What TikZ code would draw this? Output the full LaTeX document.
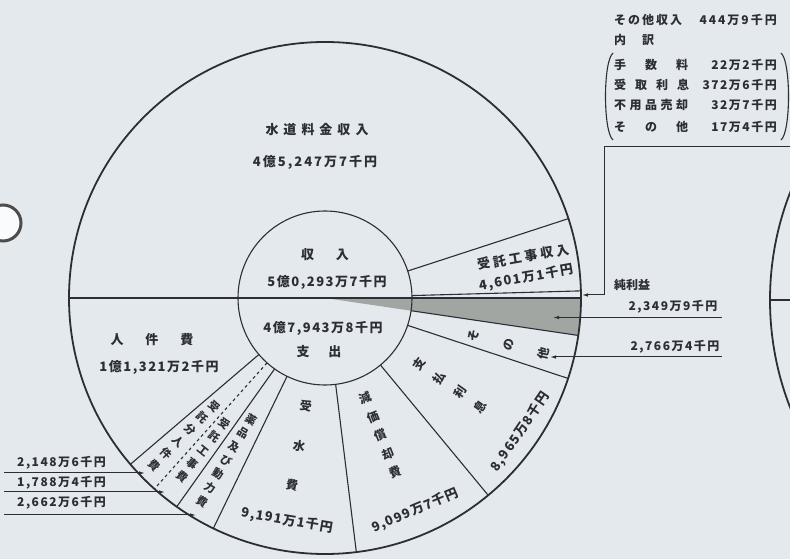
\documentclass[tikz,border=0pt]{standalone}
\usepackage{fontspec}
\newfontfamily\jp{Noto Sans CJK JP}
\usetikzlibrary{arrows.meta}

\definecolor{ink}{HTML}{2B2E33}
\definecolor{paper}{HTML}{E4E9EE}
\definecolor{profitgray}{HTML}{A2A6A2}

\makeatletter
\newcommand\spreadtext[2]{\def\spr@gap{#1}\@tfor\spr@c:=#2\do{\spr@c\hskip\spr@gap\relax}\unskip}
\makeatother

\tikzset{
  divider/.style={draw=ink, line width=1.1pt},
  rim/.style={draw=ink, line width=1.8pt},
  lbl/.style={font=\jp\bfseries\fontsize{13}{15}\selectfont, text=ink, inner sep=1pt},
  smalllbl/.style={font=\jp\bfseries\fontsize{12}{14}\selectfont, text=ink, inner sep=1pt},
  tatecol/.style={font=\jp\bfseries\fontsize{12}{#1}\selectfont, text=ink, align=center, inner sep=0pt},
  narrowcol/.style={font=\jp\bfseries\fontsize{11}{#1}\selectfont, text=ink, align=center, inner sep=0pt},
  pointer/.style={draw=ink, line width=1pt, -{Latex[length=6pt,width=3.5pt]}},
}

\begin{document}
\begin{tikzpicture}[x=1pt,y=1pt]
\fill[paper] (0,0) rectangle (790,559);
\useasboundingbox (0,0) rectangle (790,559);

% punch hole and the next chart, cut by the edge
\draw[gray!60!black, line width=3pt, fill=white!80!paper] (3,336) circle (18);
\begin{scope}
\clip (0,0) rectangle (790,559);
\draw[rim] (1066,259) circle (296);
\draw[divider] (770,259) -- (790,259);
\end{scope}

\coordinate (C) at (325,261);
\begin{scope}[shift={(C)}]
\fill[profitgray] (0,0) -- (0:256) arc (0:-8.41:256) -- cycle;
\draw[rim] (0,0) circle (256);
\draw[divider] (180:256) -- (0:256);
\draw[divider] (0,0) circle (87);
\foreach \a in {18.06,1.59,-8.41,-18.31,-50.40,-82.97,-115.86,-125.39,-139.48}
  \draw[divider] (\a:87) -- (\a:256);
\draw[divider, dashed] (-131.79:87) -- (-131.79:256);

% expenditure wedges
\node[tatecol=36, rotate=76] (sonota) at (-14.2:190) {そ\\の\\他};
\node[tatecol=25, rotate=55] (shiharai) at (-35:152) {支\\払\\利\\息};
\node[lbl, rotate=55.6] (shiharaiv) at (-34.5:237) {\spreadtext{1.2pt}{8,965万8千円}};
\node[tatecol=20, rotate=22] (genka) at (-68:148) {減\\価\\償\\却\\費};
\node[lbl, rotate=23] (genkav) at (-67:231) {\spreadtext{1.2pt}{9,099万7千円}};
\node[tatecol=40, rotate=-10] (jusui) at (-100:150) {受\\水\\費};
\node[lbl, rotate=-9.7] (jusuiv) at (-99.7:226) {\spreadtext{1.2pt}{9,191万1千円}};
\node[narrowcol=16, rotate=-31] (yakuhin) at (-121.2:190) {薬\\品\\及\\び\\動\\力\\費};
\node[narrowcol=17, rotate=-38.6] (jutakuhi) at (-128.6:195) {受\\託\\工\\事\\費};
\node[narrowcol=17, rotate=-45.6] (jutakubun) at (-135.6:197) {受\\託\\分\\人\\件\\費};
\end{scope}

% revenue and centre texts
\node[lbl] (suido) at (317,429) {\spreadtext{5pt}{水道料金収入}};
\node[lbl] (suidov) at (315,397) {\spreadtext{2pt}{4億5,247万7千円}};
\node[lbl] (jutaku) at (523,302) [rotate=10] {\spreadtext{3pt}{受託工事収入}};
\node[lbl] (jutakuv) at (526,281) [rotate=10] {\spreadtext{1.5pt}{4,601万1千円}};
\node[lbl] (shunyu) at (325,304) {\spreadtext{22pt}{収入}};
\node[lbl] (shunyuv) at (327,277) {\spreadtext{1.5pt}{5億0,293万7千円}};
\node[lbl] (shishutsuv) at (323,231) {\spreadtext{1.5pt}{4億7,943万8千円}};
\node[lbl] (shishutsu) at (319,207) {\spreadtext{19pt}{支出}};
\node[lbl] (jinken) at (152,219) {\spreadtext{22pt}{人件費}};
\node[lbl] (jinkenv) at (159,192) {\spreadtext{1.5pt}{1億1,321万2千円}};

% other revenue breakdown
\node[smalllbl, anchor=west] (hoka) at (613,539) {\spreadtext{2pt}{その他収入}};
\node[smalllbl, anchor=east] (hokav) at (778,539) {\spreadtext{2pt}{444万9千円}};
\node[smalllbl, anchor=west] (uchiwake) at (613,519) {\spreadtext{16pt}{内訳}};
\node[smalllbl, anchor=west] (tesuryo) at (613,494) {\spreadtext{19pt}{手数料}};
\node[smalllbl, anchor=east] (tesuryov) at (778,494) {\spreadtext{1.5pt}{22万2千円}};
\node[smalllbl, anchor=west] (uketori) at (613,474) {\spreadtext{9pt}{受取利息}};
\node[smalllbl, anchor=east] (uketoriv) at (778,474) {\spreadtext{1.5pt}{372万6千円}};
\node[smalllbl, anchor=west] (fuyohin) at (613,454) {\spreadtext{3.5pt}{不用品売却}};
\node[smalllbl, anchor=east] (fuyohinv) at (778,454) {\spreadtext{1.5pt}{32万7千円}};
\node[smalllbl, anchor=west] (sonohoka) at (613,432) {\spreadtext{19pt}{その他}};
\node[smalllbl, anchor=east] (sonohokav) at (778,432) {\spreadtext{1.5pt}{17万4千円}};
\draw[divider] (613,506) .. controls (603,498) and (603,427) .. (613,419);
\draw[divider] (781,506) .. controls (791,498) and (791,427) .. (781,419);

\coordinate (hoka-end) at (790,412);
\coordinate (hoka-top) at (604,412);
\coordinate (hoka-bend) at (604,264);
\coordinate (hoka-tip) at (582,264);
\draw[pointer] (hoka-end) -- (hoka-top) -- (hoka-bend) -- (hoka-tip);

% net profit and other expenses
\node[smalllbl, anchor=west] (junrieki) at (613,274) {純利益};
\node[smalllbl] (junriekiv) at (673,252) {\spreadtext{1.5pt}{2,349万9千円}};
\coordinate (junrieki-end) at (722,241.5);
\coordinate (junrieki-tip) at (553,241.5);
\draw[pointer] (junrieki-end) -- (junrieki-tip);
\node[smalllbl] (sonotav) at (675,212) {\spreadtext{1.5pt}{2,766万4千円}};
\coordinate (sonota-end) at (722,202);
\coordinate (sonota-tip) at (550,202);
\draw[pointer] (sonota-end) -- (sonota-tip);

% small wedges on the left
\node[smalllbl, anchor=west] (jutakubunv) at (16,96) {\spreadtext{1.5pt}{2,148万6千円}};
\coordinate (jutakubun-start) at (4,86);
\coordinate (jutakubun-tip) at (145,86);
\draw[pointer] (jutakubun-start) -- (jutakubun-tip);
\node[smalllbl, anchor=west] (jutakuhiv) at (16,76) {\spreadtext{1.5pt}{1,788万4千円}};
\coordinate (jutakuhi-start) at (4,67);
\coordinate (jutakuhi-tip) at (165,67);
\draw[pointer] (jutakuhi-start) -- (jutakuhi-tip);
\node[smalllbl, anchor=west] (yakuhinv) at (16,56) {\spreadtext{1.5pt}{2,662万6千円}};
\coordinate (yakuhin-start) at (4,44);
\coordinate (yakuhin-tip) at (196,44);
\draw[pointer] (yakuhin-start) -- (yakuhin-tip);
\end{tikzpicture}
\end{document}
